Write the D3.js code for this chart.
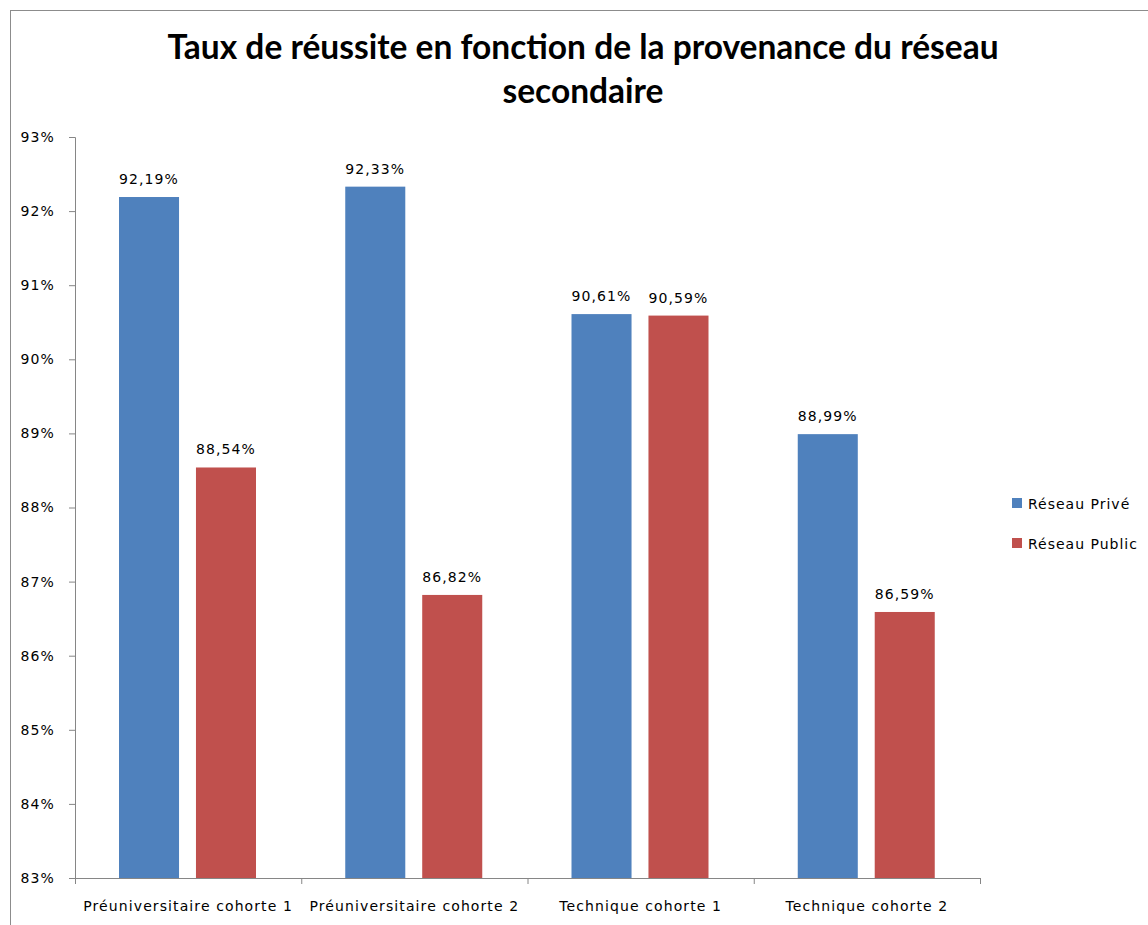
<!DOCTYPE html>
<html>
<head>
<meta charset="utf-8">
<script src="https://cdn.jsdelivr.net/npm/d3@7"></script>
<style>
  body { margin: 0; background: #fff; }
  svg text { font-family: "DejaVu Sans", sans-serif; }
</style>
</head>
<body>
<svg id="chart" width="1148" height="925"></svg>
<script>
const categories = ['Préuniversitaire cohorte 1', 'Préuniversitaire cohorte 2', 'Technique cohorte 1', 'Technique cohorte 2'];
const seriesNames = ['Réseau Privé', 'Réseau Public'];
const prive = [92.19, 92.33, 90.61, 88.99];
const publicVals = [88.54, 86.82, 90.59, 86.59];
const yTicks = [83, 84, 85, 86, 87, 88, 89, 90, 91, 92, 93];
const colors = ['#4F81BD', '#C0504D'];

const svg = d3.select('#chart');

// outer frame
svg.append('rect')
  .attr('x', 10.5).attr('y', 10.5)
  .attr('width', 1160).attr('height', 940)
  .attr('fill', 'none').attr('stroke', '#8c8c8c');

const plotLeft = 75, plotRight = 980, plotTop = 137, plotBottom = 878;

const x = d3.scaleBand().domain(categories).range([plotLeft, plotRight]);
const x1 = d3.scaleBand().domain(seriesNames).range([44, 181]).paddingInner(0.22);
const y = d3.scaleLinear().domain([83, 93]).range([plotBottom, plotTop]);

// title
const title = svg.append('text')
  .attr('text-anchor', 'middle')
  .style('font-family', 'Lato, "Open Sans", sans-serif')
  .style('font-weight', 'bold')
  .style('font-size', '33.5px')
  .attr('fill', '#000');
title.append('tspan').attr('x', 583).attr('y', 59).text('Taux de réussite en fonction de la provenance du réseau');
title.append('tspan').attr('x', 583).attr('y', 103).text('secondaire');

const small = sel => sel.style('font-size', '14px').style('letter-spacing', '1.1px').attr('fill', '#000');

// y axis
const yAxis = svg.append('g')
  .attr('transform', `translate(${plotLeft},0)`)
  .call(d3.axisLeft(y).tickValues(yTicks).tickSize(6).tickPadding(6).tickFormat(d => d + '%'));
yAxis.select('.domain').attr('stroke', '#868686');
yAxis.selectAll('.tick line').attr('stroke', '#868686');
yAxis.selectAll('.tick text').call(small).attr('dx', '-8');

// x axis
const xAxis = svg.append('g')
  .attr('transform', `translate(0,${plotBottom})`)
  .call(d3.axisBottom(x).tickSize(0).tickPadding(23));
xAxis.select('.domain').attr('stroke', '#868686');
xAxis.selectAll('.tick text').call(small);
xAxis.selectAll('.sep')
  .data(categories.concat(['end']))
  .enter().append('line')
  .attr('class', 'sep')
  .attr('x1', (d, i) => plotLeft + i * x.bandwidth() + 0.5)
  .attr('x2', (d, i) => plotLeft + i * x.bandwidth() + 0.5)
  .attr('y1', 0).attr('y2', 6)
  .attr('stroke', '#868686');

// bars
const data = categories.map((c, i) => ({cat: c, values: [prive[i], publicVals[i]]}));
const groups = svg.selectAll('.grp').data(data).enter().append('g')
  .attr('transform', d => `translate(${x(d.cat)},0)`);

groups.selectAll('rect').data(d => d.values.map((v, j) => ({name: seriesNames[j], v, j})))
  .enter().append('rect')
  .attr('x', d => x1(d.name))
  .attr('width', x1.bandwidth())
  .attr('y', d => y(d.v))
  .attr('height', d => y(83) - y(d.v))
  .attr('fill', d => colors[d.j]);

groups.selectAll('text.lbl').data(d => d.values.map((v, j) => ({name: seriesNames[j], v, j})))
  .enter().append('text')
  .attr('class', 'lbl')
  .attr('x', d => x1(d.name) + x1.bandwidth() / 2)
  .attr('y', d => y(d.v) - 13)
  .attr('text-anchor', 'middle')
  .call(small)
  .text(d => d.v.toFixed(2).replace('.', ',') + '%');

// legend
const legend = svg.append('g').attr('transform', 'translate(1012,498)');
seriesNames.forEach((n, i) => {
  const g = legend.append('g').attr('transform', `translate(0,${i * 40})`);
  g.append('rect').attr('width', 10).attr('height', 10).attr('fill', colors[i]);
  g.append('text').attr('x', 16).attr('y', 11)
    .style('font-size', '14px').style('letter-spacing', '1px')
    .attr('fill', '#000').text(n);
});
</script>
</body>
</html>
